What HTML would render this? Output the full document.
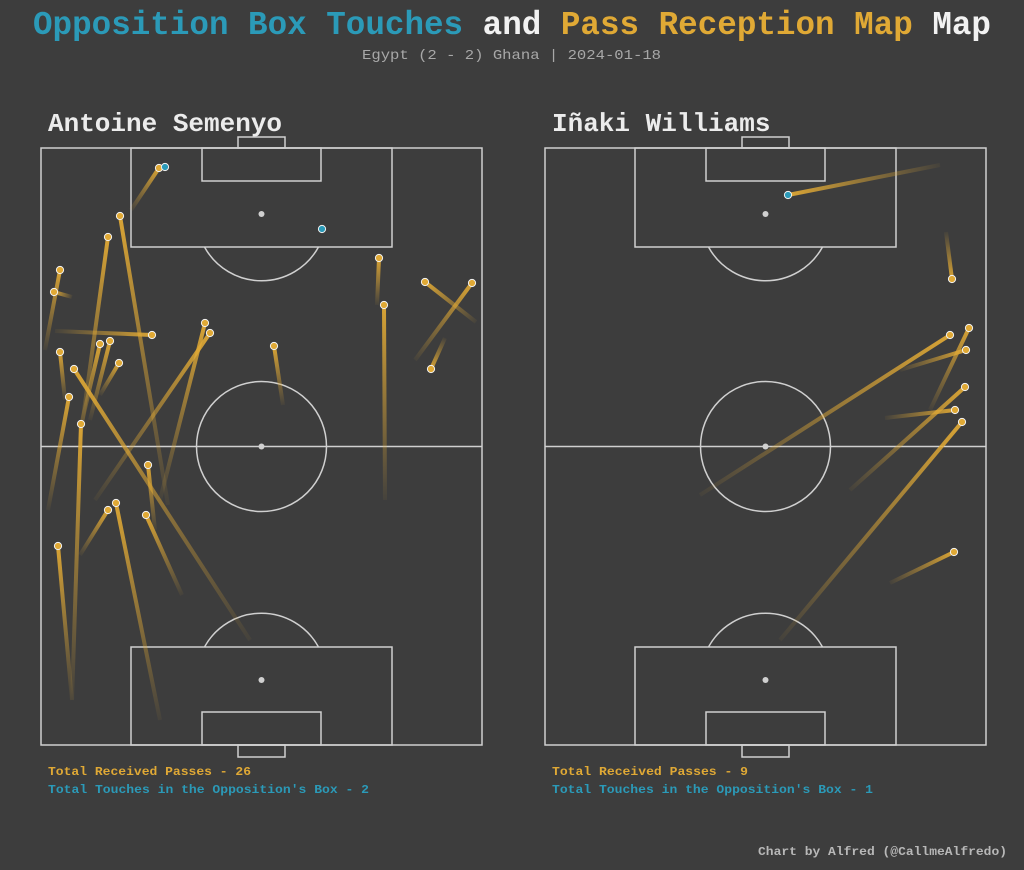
<!DOCTYPE html>
<html><head><meta charset="utf-8"><style>
html,body{margin:0;padding:0;background:#3d3d3d;}
svg{display:block;}
text{font-family:"Liberation Mono","DejaVu Sans Mono",monospace;}
</style></head><body>
<svg width="1024" height="870" xmlns="http://www.w3.org/2000/svg">
<defs>
<linearGradient id="g0" gradientUnits="userSpaceOnUse" x1="131" y1="210" x2="159" y2="168"><stop offset="0" stop-color="#e0a935" stop-opacity="0.05"/><stop offset="1" stop-color="#e0a935" stop-opacity="0.95"/></linearGradient>
<linearGradient id="g1" gradientUnits="userSpaceOnUse" x1="168" y1="505" x2="120" y2="216"><stop offset="0" stop-color="#e0a935" stop-opacity="0.05"/><stop offset="1" stop-color="#e0a935" stop-opacity="0.95"/></linearGradient>
<linearGradient id="g2" gradientUnits="userSpaceOnUse" x1="80" y1="440" x2="108" y2="237"><stop offset="0" stop-color="#e0a935" stop-opacity="0.05"/><stop offset="1" stop-color="#e0a935" stop-opacity="0.95"/></linearGradient>
<linearGradient id="g3" gradientUnits="userSpaceOnUse" x1="45" y1="350" x2="60" y2="270"><stop offset="0" stop-color="#e0a935" stop-opacity="0.05"/><stop offset="1" stop-color="#e0a935" stop-opacity="0.95"/></linearGradient>
<linearGradient id="g4" gradientUnits="userSpaceOnUse" x1="72" y1="297" x2="54" y2="292"><stop offset="0" stop-color="#e0a935" stop-opacity="0.05"/><stop offset="1" stop-color="#e0a935" stop-opacity="0.95"/></linearGradient>
<linearGradient id="g5" gradientUnits="userSpaceOnUse" x1="55" y1="331" x2="152" y2="335"><stop offset="0" stop-color="#e0a935" stop-opacity="0.05"/><stop offset="1" stop-color="#e0a935" stop-opacity="0.95"/></linearGradient>
<linearGradient id="g6" gradientUnits="userSpaceOnUse" x1="160" y1="500" x2="205" y2="323"><stop offset="0" stop-color="#e0a935" stop-opacity="0.05"/><stop offset="1" stop-color="#e0a935" stop-opacity="0.95"/></linearGradient>
<linearGradient id="g7" gradientUnits="userSpaceOnUse" x1="95" y1="500" x2="210" y2="333"><stop offset="0" stop-color="#e0a935" stop-opacity="0.05"/><stop offset="1" stop-color="#e0a935" stop-opacity="0.95"/></linearGradient>
<linearGradient id="g8" gradientUnits="userSpaceOnUse" x1="283" y1="405" x2="274" y2="346"><stop offset="0" stop-color="#e0a935" stop-opacity="0.05"/><stop offset="1" stop-color="#e0a935" stop-opacity="0.95"/></linearGradient>
<linearGradient id="g9" gradientUnits="userSpaceOnUse" x1="377" y1="305" x2="379" y2="258"><stop offset="0" stop-color="#e0a935" stop-opacity="0.05"/><stop offset="1" stop-color="#e0a935" stop-opacity="0.95"/></linearGradient>
<linearGradient id="g10" gradientUnits="userSpaceOnUse" x1="385" y1="500" x2="384" y2="305"><stop offset="0" stop-color="#e0a935" stop-opacity="0.05"/><stop offset="1" stop-color="#e0a935" stop-opacity="0.95"/></linearGradient>
<linearGradient id="g11" gradientUnits="userSpaceOnUse" x1="476" y1="322" x2="425" y2="282"><stop offset="0" stop-color="#e0a935" stop-opacity="0.05"/><stop offset="1" stop-color="#e0a935" stop-opacity="0.95"/></linearGradient>
<linearGradient id="g12" gradientUnits="userSpaceOnUse" x1="415" y1="360" x2="472" y2="283"><stop offset="0" stop-color="#e0a935" stop-opacity="0.05"/><stop offset="1" stop-color="#e0a935" stop-opacity="0.95"/></linearGradient>
<linearGradient id="g13" gradientUnits="userSpaceOnUse" x1="445" y1="338" x2="431" y2="369"><stop offset="0" stop-color="#e0a935" stop-opacity="0.05"/><stop offset="1" stop-color="#e0a935" stop-opacity="0.95"/></linearGradient>
<linearGradient id="g14" gradientUnits="userSpaceOnUse" x1="65" y1="400" x2="60" y2="352"><stop offset="0" stop-color="#e0a935" stop-opacity="0.05"/><stop offset="1" stop-color="#e0a935" stop-opacity="0.95"/></linearGradient>
<linearGradient id="g15" gradientUnits="userSpaceOnUse" x1="90" y1="420" x2="110" y2="341"><stop offset="0" stop-color="#e0a935" stop-opacity="0.05"/><stop offset="1" stop-color="#e0a935" stop-opacity="0.95"/></linearGradient>
<linearGradient id="g16" gradientUnits="userSpaceOnUse" x1="80" y1="430" x2="100" y2="344"><stop offset="0" stop-color="#e0a935" stop-opacity="0.05"/><stop offset="1" stop-color="#e0a935" stop-opacity="0.95"/></linearGradient>
<linearGradient id="g17" gradientUnits="userSpaceOnUse" x1="100" y1="395" x2="119" y2="363"><stop offset="0" stop-color="#e0a935" stop-opacity="0.05"/><stop offset="1" stop-color="#e0a935" stop-opacity="0.95"/></linearGradient>
<linearGradient id="g18" gradientUnits="userSpaceOnUse" x1="250" y1="640" x2="74" y2="369"><stop offset="0" stop-color="#e0a935" stop-opacity="0.05"/><stop offset="1" stop-color="#e0a935" stop-opacity="0.95"/></linearGradient>
<linearGradient id="g19" gradientUnits="userSpaceOnUse" x1="48" y1="510" x2="69" y2="397"><stop offset="0" stop-color="#e0a935" stop-opacity="0.05"/><stop offset="1" stop-color="#e0a935" stop-opacity="0.95"/></linearGradient>
<linearGradient id="g20" gradientUnits="userSpaceOnUse" x1="72" y1="700" x2="81" y2="424"><stop offset="0" stop-color="#e0a935" stop-opacity="0.05"/><stop offset="1" stop-color="#e0a935" stop-opacity="0.95"/></linearGradient>
<linearGradient id="g21" gradientUnits="userSpaceOnUse" x1="155" y1="530" x2="148" y2="465"><stop offset="0" stop-color="#e0a935" stop-opacity="0.05"/><stop offset="1" stop-color="#e0a935" stop-opacity="0.95"/></linearGradient>
<linearGradient id="g22" gradientUnits="userSpaceOnUse" x1="80" y1="555" x2="108" y2="510"><stop offset="0" stop-color="#e0a935" stop-opacity="0.05"/><stop offset="1" stop-color="#e0a935" stop-opacity="0.95"/></linearGradient>
<linearGradient id="g23" gradientUnits="userSpaceOnUse" x1="160" y1="720" x2="116" y2="503"><stop offset="0" stop-color="#e0a935" stop-opacity="0.05"/><stop offset="1" stop-color="#e0a935" stop-opacity="0.95"/></linearGradient>
<linearGradient id="g24" gradientUnits="userSpaceOnUse" x1="182" y1="595" x2="146" y2="515"><stop offset="0" stop-color="#e0a935" stop-opacity="0.05"/><stop offset="1" stop-color="#e0a935" stop-opacity="0.95"/></linearGradient>
<linearGradient id="g25" gradientUnits="userSpaceOnUse" x1="72" y1="700" x2="58" y2="546"><stop offset="0" stop-color="#e0a935" stop-opacity="0.05"/><stop offset="1" stop-color="#e0a935" stop-opacity="0.95"/></linearGradient>
<linearGradient id="g26" gradientUnits="userSpaceOnUse" x1="940" y1="165" x2="788" y2="195"><stop offset="0" stop-color="#e0a935" stop-opacity="0.05"/><stop offset="1" stop-color="#e0a935" stop-opacity="0.95"/></linearGradient>
<linearGradient id="g27" gradientUnits="userSpaceOnUse" x1="946" y1="232" x2="952" y2="279"><stop offset="0" stop-color="#e0a935" stop-opacity="0.05"/><stop offset="1" stop-color="#e0a935" stop-opacity="0.95"/></linearGradient>
<linearGradient id="g28" gradientUnits="userSpaceOnUse" x1="700" y1="495" x2="950" y2="335"><stop offset="0" stop-color="#e0a935" stop-opacity="0.05"/><stop offset="1" stop-color="#e0a935" stop-opacity="0.95"/></linearGradient>
<linearGradient id="g29" gradientUnits="userSpaceOnUse" x1="930" y1="410" x2="969" y2="328"><stop offset="0" stop-color="#e0a935" stop-opacity="0.05"/><stop offset="1" stop-color="#e0a935" stop-opacity="0.95"/></linearGradient>
<linearGradient id="g30" gradientUnits="userSpaceOnUse" x1="900" y1="370" x2="966" y2="350"><stop offset="0" stop-color="#e0a935" stop-opacity="0.05"/><stop offset="1" stop-color="#e0a935" stop-opacity="0.95"/></linearGradient>
<linearGradient id="g31" gradientUnits="userSpaceOnUse" x1="850" y1="490" x2="965" y2="387"><stop offset="0" stop-color="#e0a935" stop-opacity="0.05"/><stop offset="1" stop-color="#e0a935" stop-opacity="0.95"/></linearGradient>
<linearGradient id="g32" gradientUnits="userSpaceOnUse" x1="885" y1="418" x2="955" y2="410"><stop offset="0" stop-color="#e0a935" stop-opacity="0.05"/><stop offset="1" stop-color="#e0a935" stop-opacity="0.95"/></linearGradient>
<linearGradient id="g33" gradientUnits="userSpaceOnUse" x1="780" y1="640" x2="962" y2="422"><stop offset="0" stop-color="#e0a935" stop-opacity="0.05"/><stop offset="1" stop-color="#e0a935" stop-opacity="0.95"/></linearGradient>
<linearGradient id="g34" gradientUnits="userSpaceOnUse" x1="890" y1="583" x2="954" y2="552"><stop offset="0" stop-color="#e0a935" stop-opacity="0.05"/><stop offset="1" stop-color="#e0a935" stop-opacity="0.95"/></linearGradient>
</defs>
<rect width="1024" height="870" fill="#3d3d3d"/>
<text x="33" y="34" textLength="958" lengthAdjust="spacingAndGlyphs" font-size="33" font-weight="bold"><tspan fill="#2b9ab8">Opposition Box Touches</tspan><tspan fill="#f2f2f2"> and </tspan><tspan fill="#e0a935">Pass Reception Map</tspan><tspan fill="#f2f2f2"> Map</tspan></text>
<text x="362" y="59" textLength="299" lengthAdjust="spacingAndGlyphs" font-size="14" fill="#a8a8a8">Egypt (2 - 2) Ghana | 2024-01-18</text>
<text x="48" y="131" font-size="26" font-weight="bold" fill="#ececec">Antoine Semenyo</text>
<text x="552" y="131" font-size="26" font-weight="bold" fill="#ececec">Iñaki Williams</text>

<g fill="none" stroke="#d0d0d0" stroke-width="1.5">
<rect x="41" y="148" width="441" height="597"/>
<line x1="41" y1="446.5" x2="482" y2="446.5"/>
<circle cx="261.5" cy="446.5" r="65"/>
<rect x="131" y="148" width="261" height="99"/>
<rect x="202" y="148" width="119" height="33"/>
<rect x="238" y="137" width="47" height="11"/>
<path d="M204.5 247 A65 65 0 0 0 318.5 247"/>
<rect x="131" y="647" width="261" height="98"/>
<rect x="202" y="712" width="119" height="33"/>
<rect x="238" y="745" width="47" height="12"/>
<path d="M204.5 647 A65 65 0 0 1 318.5 647"/>
<rect x="545" y="148" width="441" height="597"/>
<line x1="545" y1="446.5" x2="986" y2="446.5"/>
<circle cx="765.5" cy="446.5" r="65"/>
<rect x="635" y="148" width="261" height="99"/>
<rect x="706" y="148" width="119" height="33"/>
<rect x="742" y="137" width="47" height="11"/>
<path d="M708.5 247 A65 65 0 0 0 822.5 247"/>
<rect x="635" y="647" width="261" height="98"/>
<rect x="706" y="712" width="119" height="33"/>
<rect x="742" y="745" width="47" height="12"/>
<path d="M708.5 647 A65 65 0 0 1 822.5 647"/>
</g>
<g fill="#d0d0d0">
<circle cx="261.5" cy="446.5" r="3"/><circle cx="261.5" cy="214" r="3"/><circle cx="261.5" cy="680" r="3"/>
<circle cx="765.5" cy="446.5" r="3"/><circle cx="765.5" cy="214" r="3"/><circle cx="765.5" cy="680" r="3"/>
</g>

<g stroke-width="4" stroke-linecap="butt">
<line x1="131" y1="210" x2="159" y2="168" stroke="url(#g0)"/>
<line x1="168" y1="505" x2="120" y2="216" stroke="url(#g1)"/>
<line x1="80" y1="440" x2="108" y2="237" stroke="url(#g2)"/>
<line x1="45" y1="350" x2="60" y2="270" stroke="url(#g3)"/>
<line x1="72" y1="297" x2="54" y2="292" stroke="url(#g4)"/>
<line x1="55" y1="331" x2="152" y2="335" stroke="url(#g5)"/>
<line x1="160" y1="500" x2="205" y2="323" stroke="url(#g6)"/>
<line x1="95" y1="500" x2="210" y2="333" stroke="url(#g7)"/>
<line x1="283" y1="405" x2="274" y2="346" stroke="url(#g8)"/>
<line x1="377" y1="305" x2="379" y2="258" stroke="url(#g9)"/>
<line x1="385" y1="500" x2="384" y2="305" stroke="url(#g10)"/>
<line x1="476" y1="322" x2="425" y2="282" stroke="url(#g11)"/>
<line x1="415" y1="360" x2="472" y2="283" stroke="url(#g12)"/>
<line x1="445" y1="338" x2="431" y2="369" stroke="url(#g13)"/>
<line x1="65" y1="400" x2="60" y2="352" stroke="url(#g14)"/>
<line x1="90" y1="420" x2="110" y2="341" stroke="url(#g15)"/>
<line x1="80" y1="430" x2="100" y2="344" stroke="url(#g16)"/>
<line x1="100" y1="395" x2="119" y2="363" stroke="url(#g17)"/>
<line x1="250" y1="640" x2="74" y2="369" stroke="url(#g18)"/>
<line x1="48" y1="510" x2="69" y2="397" stroke="url(#g19)"/>
<line x1="72" y1="700" x2="81" y2="424" stroke="url(#g20)"/>
<line x1="155" y1="530" x2="148" y2="465" stroke="url(#g21)"/>
<line x1="80" y1="555" x2="108" y2="510" stroke="url(#g22)"/>
<line x1="160" y1="720" x2="116" y2="503" stroke="url(#g23)"/>
<line x1="182" y1="595" x2="146" y2="515" stroke="url(#g24)"/>
<line x1="72" y1="700" x2="58" y2="546" stroke="url(#g25)"/>
<line x1="940" y1="165" x2="788" y2="195" stroke="url(#g26)"/>
<line x1="946" y1="232" x2="952" y2="279" stroke="url(#g27)"/>
<line x1="700" y1="495" x2="950" y2="335" stroke="url(#g28)"/>
<line x1="930" y1="410" x2="969" y2="328" stroke="url(#g29)"/>
<line x1="900" y1="370" x2="966" y2="350" stroke="url(#g30)"/>
<line x1="850" y1="490" x2="965" y2="387" stroke="url(#g31)"/>
<line x1="885" y1="418" x2="955" y2="410" stroke="url(#g32)"/>
<line x1="780" y1="640" x2="962" y2="422" stroke="url(#g33)"/>
<line x1="890" y1="583" x2="954" y2="552" stroke="url(#g34)"/>
</g>
<g fill="#e0a935" stroke="#f3f3f3" stroke-width="1">
<circle cx="159" cy="168" r="3.6"/><circle cx="120" cy="216" r="3.6"/><circle cx="108" cy="237" r="3.6"/><circle cx="60" cy="270" r="3.6"/><circle cx="54" cy="292" r="3.6"/><circle cx="152" cy="335" r="3.6"/><circle cx="205" cy="323" r="3.6"/><circle cx="210" cy="333" r="3.6"/><circle cx="274" cy="346" r="3.6"/><circle cx="379" cy="258" r="3.6"/><circle cx="384" cy="305" r="3.6"/><circle cx="425" cy="282" r="3.6"/><circle cx="472" cy="283" r="3.6"/><circle cx="431" cy="369" r="3.6"/><circle cx="60" cy="352" r="3.6"/><circle cx="110" cy="341" r="3.6"/><circle cx="100" cy="344" r="3.6"/><circle cx="119" cy="363" r="3.6"/><circle cx="74" cy="369" r="3.6"/><circle cx="69" cy="397" r="3.6"/><circle cx="81" cy="424" r="3.6"/><circle cx="148" cy="465" r="3.6"/><circle cx="108" cy="510" r="3.6"/><circle cx="116" cy="503" r="3.6"/><circle cx="146" cy="515" r="3.6"/><circle cx="58" cy="546" r="3.6"/>
<circle cx="952" cy="279" r="3.6"/><circle cx="950" cy="335" r="3.6"/><circle cx="969" cy="328" r="3.6"/><circle cx="966" cy="350" r="3.6"/><circle cx="965" cy="387" r="3.6"/><circle cx="955" cy="410" r="3.6"/><circle cx="962" cy="422" r="3.6"/><circle cx="954" cy="552" r="3.6"/>
</g>
<g fill="#2b9ab8" stroke="#f3f3f3" stroke-width="1">
<circle cx="165" cy="167" r="3.6"/><circle cx="322" cy="229" r="3.6"/><circle cx="788" cy="195" r="3.6"/>
</g>

<text x="48" y="775" textLength="203" lengthAdjust="spacingAndGlyphs" font-size="12" font-weight="bold" fill="#e0a935">Total Received Passes - 26</text>
<text x="48" y="793" textLength="321" lengthAdjust="spacingAndGlyphs" font-size="12" font-weight="bold" fill="#2b9ab8">Total Touches in the Opposition's Box - 2</text>
<text x="552" y="775" textLength="196" lengthAdjust="spacingAndGlyphs" font-size="12" font-weight="bold" fill="#e0a935">Total Received Passes - 9</text>
<text x="552" y="793" textLength="321" lengthAdjust="spacingAndGlyphs" font-size="12" font-weight="bold" fill="#2b9ab8">Total Touches in the Opposition's Box - 1</text>
<text x="758" y="855" textLength="249" lengthAdjust="spacingAndGlyphs" font-size="12" font-weight="bold" fill="#b8b8b8">Chart by Alfred (@CallmeAlfredo)</text>
</svg>
</body></html>
